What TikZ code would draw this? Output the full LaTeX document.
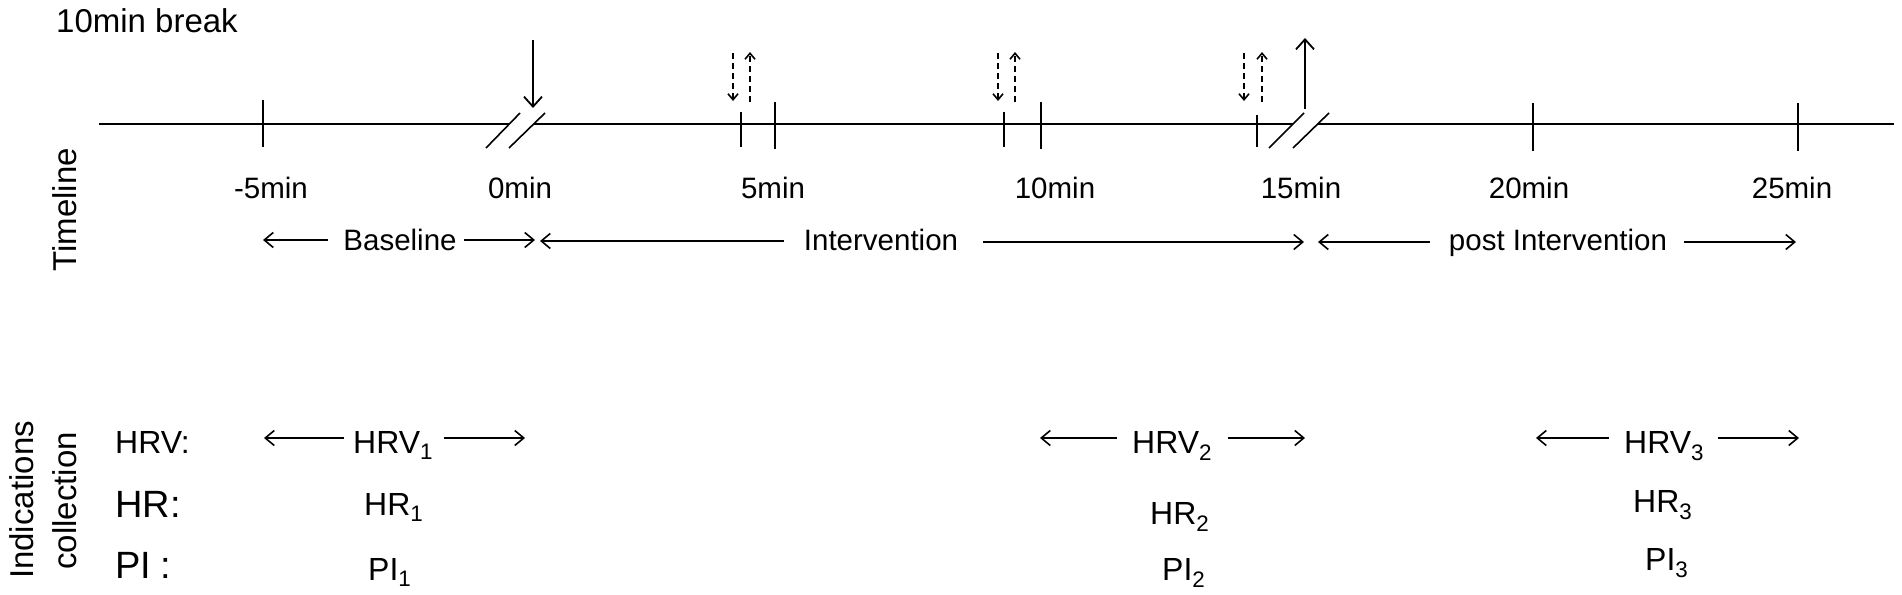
\documentclass[tikz,border=0pt]{standalone}
\usepackage{fontspec}
\setmainfont{Liberation Sans}
\usetikzlibrary{arrows.meta}
\begin{document}
\begin{tikzpicture}[x=1pt,y=-1pt,
  axis/.style={line width=1.8pt},
  tick/.style={line width=1.6pt},
  arr/.style={line width=1.6pt,-{Straight Barb[length=9pt,width=15pt,line width=1.6pt]}},
  darr/.style={line width=1.6pt,dash pattern=on 6pt off 4pt,-{Straight Barb[length=6pt,width=10pt,line width=1.6pt]}},
  sarr/.style={line width=1.8pt,-{Straight Barb[length=10pt,width=18pt,line width=1.8pt]}},
  lab/.style={font=\fontsize{29.5}{34}\selectfont,inner sep=0pt,anchor=base},
  big/.style={font=\fontsize{33}{38}\selectfont,inner sep=0pt},
  ind/.style={font=\fontsize{32}{37}\selectfont,inner sep=0pt,anchor=base west},
  indbig/.style={font=\fontsize{38}{43}\selectfont,inner sep=0pt,anchor=base west},
]
\useasboundingbox[fill=white] (0,0) rectangle (1902,594);

% header
\node[big,anchor=base west] (brk) at (56,33) {10min break};
\node[big,rotate=90,anchor=base] (tl) at (76,210) {Timeline};
\node[big,rotate=90,anchor=base] (ind1) at (33,500) {Indications};
\node[big,rotate=90,anchor=base] (ind2) at (76,501) {collection};

% axis
\coordinate (Lstart) at (99,124);
\coordinate (Lend) at (1894,124);
\coordinate (b1a) at (509,124); \coordinate (b1b) at (534,124);
\coordinate (b2a) at (1293,124); \coordinate (b2b) at (1318,124);
\draw[axis] (Lstart) -- (b1a) (b1b) -- (b2a) (b2b) -- (Lend);
\draw[tick] (486,148) -- (520,113) (509,148) -- (545,113);
\draw[tick] (1269,148) -- (1304,113) (1293,148) -- (1329,113);

% ticks
\draw[tick] (263,100) -- (263,147);
\draw[tick] (741,112) -- (741,147) (775,102) -- (775,149);
\draw[tick] (1004,112) -- (1004,147) (1041,102) -- (1041,149);
\draw[tick] (1257,115) -- (1257,147);
\draw[tick] (1533,103) -- (1533,151);
\draw[tick] (1798,103) -- (1798,151);

% event arrows
\draw[sarr] (533,40) -- (533,108);
\draw[sarr] (1305,109) -- (1305,38);
\foreach \a/\b in {733/750,998/1015,1244/1262}{
  \draw[darr] (\a,53) -- (\a,101);
  \draw[darr] (\b,102) -- (\b,52);
}

% tick labels
\node[lab] (m5) at (271,198) {-5min};
\node[lab] (m0) at (520,198) {0min};
\node[lab] (m5p) at (773,198) {5min};
\node[lab] (m10) at (1055,198) {10min};
\node[lab] (m15) at (1301,198) {15min};
\node[lab] (m20) at (1529,198) {20min};
\node[lab] (m25) at (1792,198) {25min};

% phases
\node[lab] (bl) at (400,250) {Baseline};
\draw[arr] (328,240) -- (263,240);
\draw[arr] (464,240) -- (535,240);
\node[lab] (iv) at (881,250) {Intervention};
\draw[arr] (784,241) -- (540,241);
\draw[arr] (983,242) -- (1304,242);
\node[lab] (pi) at (1558,250) {post Intervention};
\draw[arr] (1430,242) -- (1318,242);
\draw[arr] (1684,242) -- (1796,242);

% indications
\node[ind] (hrv) at (115,453) {HRV:};
\node[indbig] (hr) at (115,517) {HR:};
\node[indbig] (pil) at (115,578) {PI\kern9pt:};

\node[ind] (hrv1) at (353,453) {HRV\textsubscript{1}};
\draw[arr] (344,438) -- (264,438);
\draw[arr] (444,438) -- (525,438);
\node[ind] (hr1) at (364,515) {HR\textsubscript{1}};
\node[ind] (pi1) at (368,580) {PI\textsubscript{1}};

\node[ind] (hrv2) at (1132,453) {HRV\textsubscript{2}};
\draw[arr] (1117,438) -- (1040,438);
\draw[arr] (1228,438) -- (1305,438);
\node[ind] (hr2) at (1150,524) {HR\textsubscript{2}};
\node[ind] (pi2) at (1162,580) {PI\textsubscript{2}};

\node[ind] (hrv3) at (1624,453) {HRV\textsubscript{3}};
\draw[arr] (1609,438) -- (1536,438);
\draw[arr] (1718,438) -- (1799,438);
\node[ind] (hr3) at (1633,512) {HR\textsubscript{3}};
\node[ind] (pi3) at (1645,570) {PI\textsubscript{3}};
\end{tikzpicture}
\end{document}
